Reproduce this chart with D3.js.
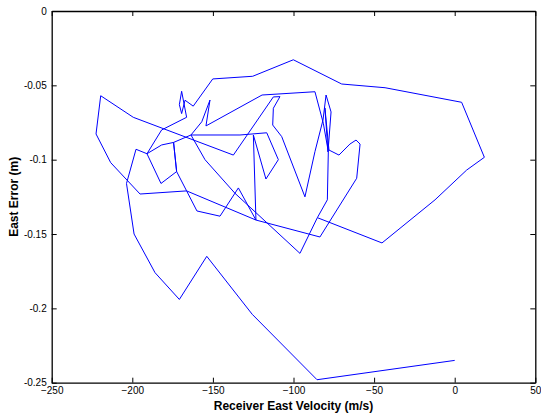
<!DOCTYPE html>
<html>
<head>
<meta charset="utf-8">
<script src="https://cdn.jsdelivr.net/npm/d3@7"></script>
<style>
body { margin: 0; background: #fff; }
svg { font-family: "Liberation Sans", Arial, sans-serif; }
</style>
</head>
<body>
<svg id="chart" width="541" height="413"></svg>
<script>
// receiver east velocity (m/s) vs east position error (m), in time order
const velocity = [
  0, -85.4, -125.6, -153.8, -170.8, -185.9, -198.9, -203.6, -197.7, -190.9,
  -181.8, -166.3, -169.4, -170.8, -169.4, -167.3, -162.2, -150.1, -125.3, -100.1,
  -70.1, -43.2, 4.3, 18.4, 7.4, -12.2, -45.1, -85.2, -79.0, -78.4,
  -81.5, -86.7, -119.5, -154.3, -151.8, -156.9, -163.6, -133.2, -116.6, -109.4, -117.1, -124.9, -123.3,
  -134.2, -145.6, -159.9, -166.3, -123.3, -83.6, -60.8, -58.7, -61.2, -65.0,
  -71.8, -78.0, -80.5, -78.6, -76.7, -79.8, -81.7, -86.7, -92.9, -107.3,
  -112.9, -112.5, -108.4, -112.5, -137.3, -199.4, -219.6, -222.5, -213.4, -195.2,
  -166.3, -172.5, -182.2, -190.9, -181.8, -174.4, -172.5, -174.4, -163.6, -154.9,
  -136.3, -96.0, -85.2
];
const eastError = [
  -0.235, -0.248, -0.204, -0.165, -0.194, -0.176, -0.150, -0.116, -0.093, -0.096,
  -0.080, -0.0715, -0.054, -0.063, -0.069, -0.060, -0.064, -0.0457, -0.0439, -0.0328,
  -0.0491, -0.0516, -0.0614, -0.0984, -0.107, -0.127, -0.156, -0.139, -0.127, -0.0946,
  -0.0755, -0.0543, -0.0565, -0.0773, -0.0599, -0.0745, -0.0834, -0.0834, -0.0819, -0.100, -0.113, -0.0834, -0.1406,
  -0.119, -0.138, -0.1345, -0.121, -0.1406, -0.152, -0.1125, -0.0895, -0.0868, -0.0895,
  -0.0969, -0.0935, -0.0652, -0.0948, -0.0679, -0.0565, -0.0733, -0.0946, -0.125, -0.0845,
  -0.0767, -0.0654, -0.0576, -0.0578, -0.0969, -0.0715, -0.057, -0.0827, -0.102, -0.1231,
  -0.121, -0.108, -0.116, -0.096, -0.0901, -0.0884, -0.108, -0.0884, -0.0834, -0.100,
  -0.1226, -0.163, -0.139
];
const xTicks = [-250, -200, -150, -100, -50, 0, 50];
const yTicks = [0, -0.05, -0.1, -0.15, -0.2, -0.25];
const yTickLabels = ["0", "-0.05", "-0.1", "-0.15", "-0.2", "-0.25"];

const svg = d3.select("#chart");
const box = {left: 51.7, right: 535.3, top: 11, bottom: 382.7};

const x = d3.scaleLinear().domain([-250, 50]).range([box.left, box.right]);
const y = d3.scaleLinear().domain([-0.25, 0]).range([box.bottom, box.top]);

const points = velocity.map((v, i) => [v, eastError[i]]);

svg.append("path")
  .datum(points)
  .attr("fill", "none")
  .attr("stroke", "#0000ff")
  .attr("stroke-width", 1)
  .attr("stroke-linejoin", "round")
  .attr("d", d3.line().x(d => x(d[0])).y(d => y(d[1])));

// matlab style box: ticks pointing in on all four sides
function styleAxis(g) {
  g.select(".domain").attr("stroke", "#000").attr("stroke-width", 1.3);
  g.selectAll(".tick line").attr("stroke", "#000");
  g.selectAll(".tick text").attr("font-size", 10).attr("fill", "#000")
    .attr("font-family", "Liberation Sans, Arial, sans-serif");
}

svg.append("g")
  .attr("transform", `translate(0,${box.bottom})`)
  .call(d3.axisBottom(x).tickValues(xTicks).tickSize(-5).tickSizeOuter(0).tickPadding(4).tickFormat(d3.format("d")))
  .call(styleAxis);

svg.append("g")
  .attr("transform", `translate(0,${box.top})`)
  .call(d3.axisTop(x).tickValues(xTicks).tickSize(-5).tickSizeOuter(0).tickFormat(""))
  .call(styleAxis);

svg.append("g")
  .attr("transform", `translate(${box.left},0)`)
  .call(d3.axisLeft(y).tickValues(yTicks).tickSize(-5).tickSizeOuter(0).tickPadding(5)
    .tickFormat((d, i) => yTickLabels[i]))
  .call(styleAxis);

svg.append("g")
  .attr("transform", `translate(${box.right},0)`)
  .call(d3.axisRight(y).tickValues(yTicks).tickSize(-5).tickSizeOuter(0).tickFormat(""))
  .call(styleAxis);

svg.selectAll(".domain").attr("fill", "none");

svg.append("text")
  .attr("x", (box.left + box.right) / 2)
  .attr("y", 410)
  .attr("text-anchor", "middle")
  .attr("font-size", 12)
  .attr("font-weight", "bold")
  .text("Receiver East Velocity (m/s)");

svg.append("text")
  .attr("transform", `translate(18,${(box.top + box.bottom) / 2}) rotate(-90)`)
  .attr("text-anchor", "middle")
  .attr("font-size", 12)
  .attr("font-weight", "bold")
  .text("East Error (m)");
</script>
</body>
</html>
